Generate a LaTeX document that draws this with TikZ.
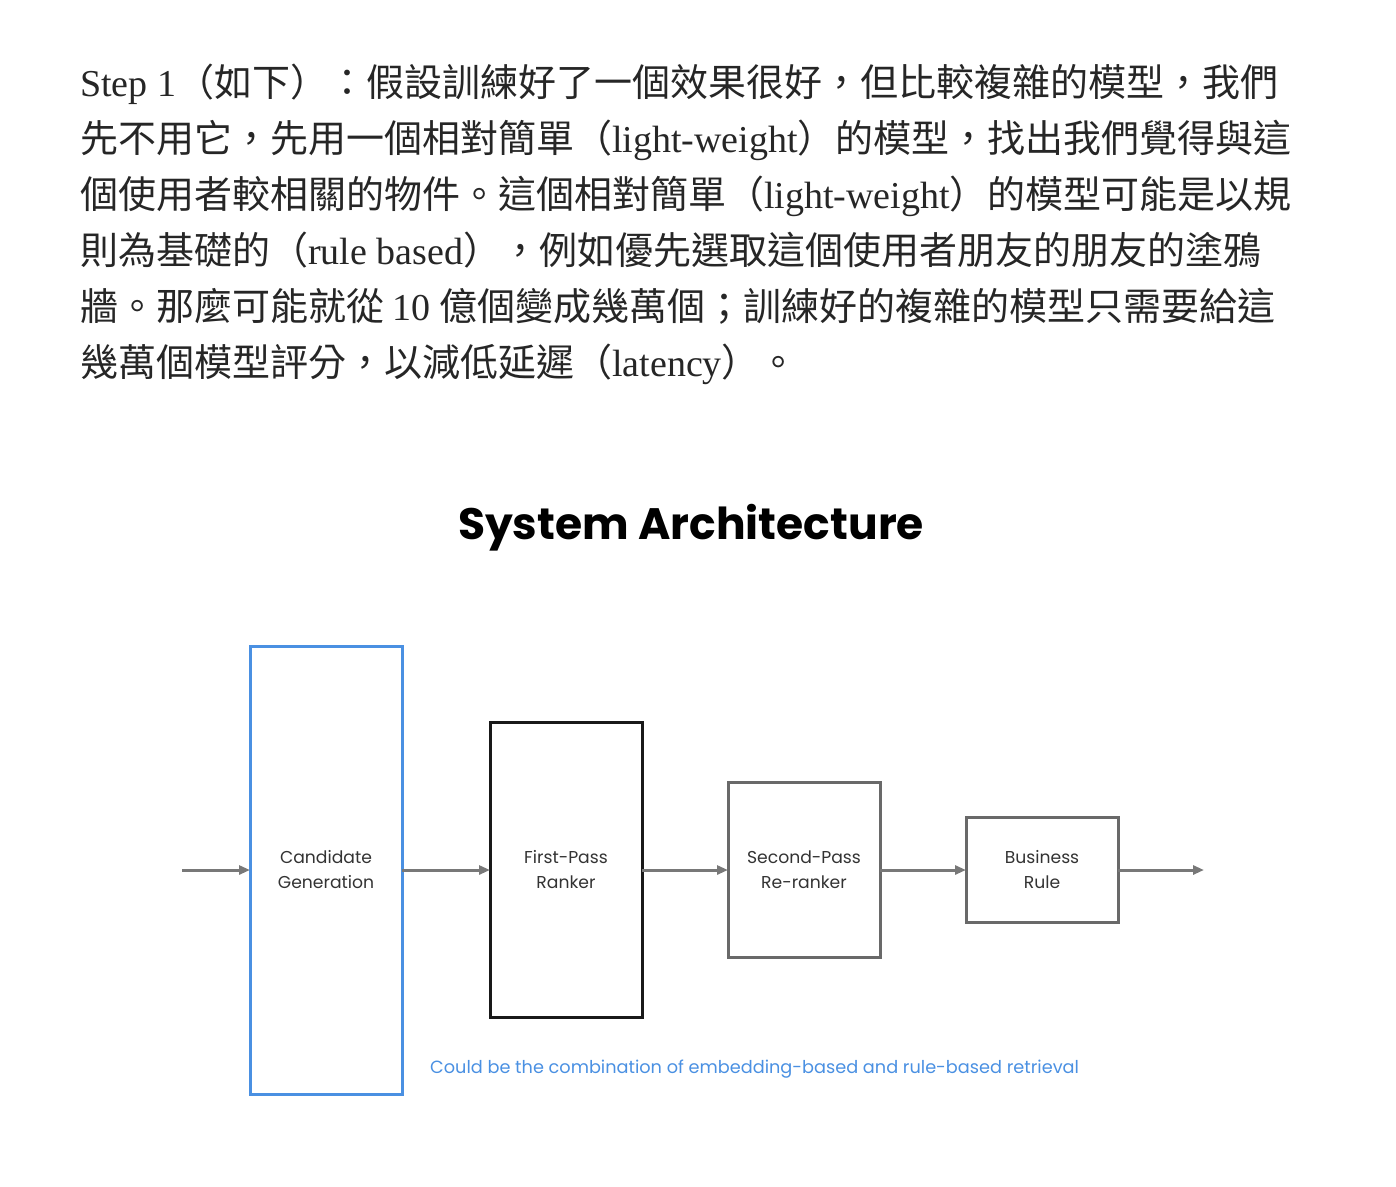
\documentclass[tikz,border=0pt]{standalone}
\usepackage{fontspec}
\setmainfont{Liberation Serif}
\newfontfamily\cjkfont{Noto Sans CJK TC}
\newfontfamily\diagfont{Poppins}
\usetikzlibrary{positioning,arrows.meta}
\definecolor{cgblue}{RGB}{74,144,226}
\definecolor{arrowgray}{RGB}{120,120,120}
\definecolor{boxgray}{RGB}{105,105,105}
\definecolor{labelgray}{RGB}{51,51,51}
\newcommand{\lat}[1]{{\rmfamily #1}}

\begin{document}
\begin{tikzpicture}[x=1pt,y=-1pt,
    para/.style={anchor=base west,inner sep=0,text=black!85,font=\cjkfont\fontsize{38}{42}\selectfont},
    stage/.style={draw,line width=3pt,minimum width=152pt,inner sep=0,outer sep=0,align=center,text=labelgray,font=\diagfont\fontsize{17.2}{25}\selectfont},
    flow/.style={arrowgray,line width=3pt,-{Triangle[length=11pt,width=9pt]}}]
    \useasboundingbox (0,0) rectangle (1396,1186);
    \node[para] (l1) at (80,96) {\lat{Step 1}（如下）：假設訓練好了一個效果很好，但比較複雜的模型，我們};
    \node[para] (l2) at (80,152) {先不用它，先用一個相對簡單（\lat{light-weight}）的模型，找出我們覺得與這};
    \node[para] (l3) at (80,208) {個使用者較相關的物件。這個相對簡單（\lat{light-weight}）的模型可能是以規};
    \node[para] (l4) at (80,264) {則為基礎的（\lat{rule based}），例如優先選取這個使用者朋友的朋友的塗鴉};
    \node[para] (l5) at (80,320) {牆。那麼可能就從 \lat{10} 億個變成幾萬個；訓練好的複雜的模型只需要給這};
    \node[para] (l6) at (80,376) {幾萬個模型評分，以減低延遲（\lat{latency}）。};
    \node[anchor=base,inner sep=0,font=\diagfont\bfseries\fontsize{44}{50}\selectfont] (title) at (691,539) {System Architecture};
    \node[stage,draw=cgblue,minimum height=448pt] (cand) at (326,870) {Candidate\\Generation};
    \node[stage,draw=black!90,minimum height=295pt,right=88pt of cand] (first) {First-Pass\\Ranker};
    \node[stage,draw=boxgray,minimum height=175pt,right=86pt of first] (second) {Second-Pass\\Re-ranker};
    \node[stage,draw=boxgray,minimum height=105pt,right=86pt of second] (biz) {Business\\Rule};
    \coordinate (in) at (182,870);
    \coordinate[right=86pt of biz] (out);
    \draw[flow] (in) -- (cand);
    \draw[flow] (cand) -- (first);
    \draw[flow] (first) -- (second);
    \draw[flow] (second) -- (biz);
    \draw[flow] (biz) -- (out);
    \node[anchor=base west,inner sep=0,text=cgblue,font=\diagfont\fontsize{17.7}{20}\selectfont] (note) at (430,1073) {Could be the combination of embedding-based and rule-based retrieval};
\end{tikzpicture}
\end{document}
